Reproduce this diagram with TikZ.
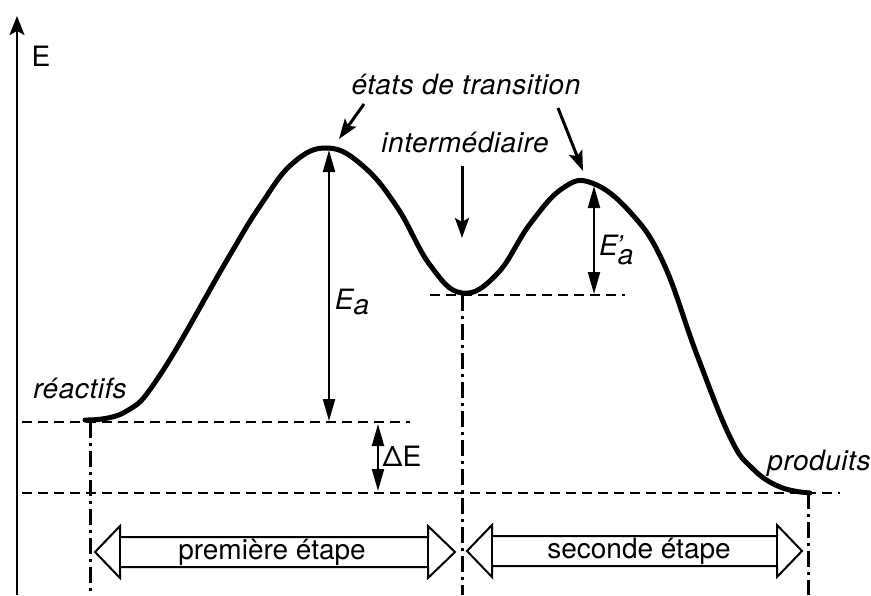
\documentclass[tikz,border=0pt]{standalone}
\usepackage{fontspec}
\setmainfont{TeX Gyre Heros}
\usetikzlibrary{arrows.meta}
\begin{document}
\begin{tikzpicture}[x=1pt,y=-1pt,
  lbl/.style={inner sep=0pt,font=\fontsize{28}{32}\selectfont},
  ilbl/.style={inner sep=0pt,font=\fontsize{28}{32}\selectfont\itshape\addfontfeature{LetterSpace=2}},
  level/.style={line width=2.5pt,dash pattern=on 10pt off 6pt},
  dashdot/.style={line width=3pt,dash pattern=on 16pt off 5pt on 3pt off 5pt},
  curve/.style={line width=5pt,line cap=round,line join=round},
  dim/.style={line width=2pt,arrows={Triangle[length=22pt,width=12pt]-Triangle[length=22pt,width=12pt]}},
  pointer/.style={line width=3pt,arrows={-Stealth[length=20pt,width=14pt,inset=4pt]}},
  stepshape/.style={line width=2pt,fill=white,line join=miter}]
\useasboundingbox (0,0) rectangle (871,595);
% axis
\coordinate (axb) at (17,595);
\coordinate (axt) at (17,16);
\draw[line width=2pt,arrows={-Stealth[length=19pt,width=15pt,inset=4pt]}] (axb) -- (axt);
\node[lbl] (E) at (41,56) {E};
% levels
\coordinate (rL) at (22,422); \coordinate (rR) at (410,422);
\coordinate (pL) at (22,493); \coordinate (pR) at (840,493);
\coordinate (iL) at (430,295); \coordinate (iR) at (625,295);
\draw[level] (rL) -- (rR);
\draw[level] (pL) -- (pR);
\draw[level] (iL) -- (iR);
% vertical dash-dot
\coordinate (v1t) at (90,422); \coordinate (v1b) at (90,595);
\coordinate (v2t) at (462,295); \coordinate (v2b) at (462,595);
\coordinate (v3t) at (808,493); \coordinate (v3b) at (808,595);
\draw[dashdot] (v1t) -- (v1b);
\draw[dashdot] (v2t) -- (v2b);
\draw[dashdot] (v3t) -- (v3b);
% energy curve
\draw[curve] plot[smooth,tension=0.7] coordinates {(85,420) (125,412) (160,375) (227,260) (260,206) (293,163) (328,148) (363,166) (397,207) (430,265) (462,293) (497,274) (530,224) (563,188) (592,183) (630,212) (663,262) (697,355) (730,437) (752,468) (780,487) (810,493)};
% dimensions
\coordinate (ea1) at (329,150); \coordinate (ea2) at (329,421);
\draw[dim] (ea1) -- (ea2);
\node[ilbl] (Ea) at (352,302) {E\raisebox{-0.35ex}{a}};
\coordinate (eb1) at (594,186); \coordinate (eb2) at (594,294);
\draw[dim] (eb1) -- (eb2);
\node[ilbl,anchor=west] (Eb) at (599,250) {E\rlap{\kern-0.05em’}\raisebox{-0.6ex}{a}};
\coordinate (de1) at (378,424); \coordinate (de2) at (378,491);
\draw[dim] (de1) -- (de2);
\node[lbl] (dE) at (402,456) {ΔE};
% labels
\node[ilbl] (reac) at (80,388) {réactifs};
\node[ilbl] (prod) at (819,463) {produits};
\node[ilbl] (ets) at (466,85) {états de transition};
\node[ilbl] (inter) at (465,142) {intermédiaire};
% pointers
\coordinate (p1s) at (364,104); \coordinate (p1e) at (339,139);
\coordinate (p2s) at (558,108); \coordinate (p2e) at (583,171);
\coordinate (p3s) at (462,166); \coordinate (p3e) at (462,238);
\draw[pointer] (p1s) -- (p1e);
\draw[pointer] (p2s) -- (p2e);
\draw[pointer] (p3s) -- (p3e);
% step double arrows
\draw[stepshape] (95,552) -- (120,526) -- (120,537) -- (428,537) -- (428,526) -- (455,552) -- (428,578) -- (428,567) -- (120,567) -- (120,578) -- cycle;
\draw[line width=2pt] (120,537) -- (120,567) (428,537) -- (428,567);
\node[lbl] (s1) at (272,552) {première étape};
\draw[stepshape] (467,551) -- (492,525) -- (492,536) -- (777,536) -- (777,525) -- (802,551) -- (777,577) -- (777,566) -- (492,566) -- (492,577) -- cycle;
\draw[line width=2pt] (492,536) -- (492,566) (777,536) -- (777,566);
\node[lbl] (s2) at (639,551) {seconde étape};
\end{tikzpicture}
\end{document}
